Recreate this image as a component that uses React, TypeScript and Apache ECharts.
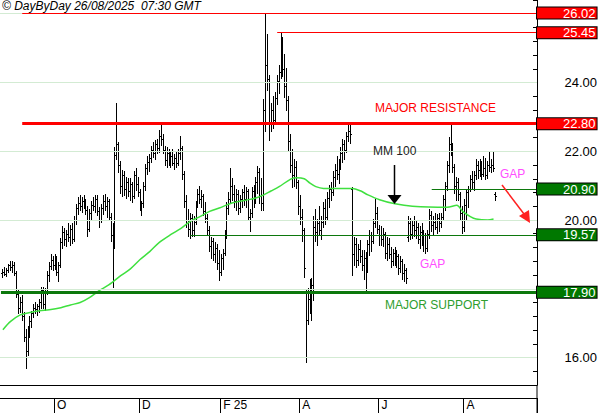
import { useEffect, useRef } from 'react';
import * as echarts from 'echarts';

// ---------- calendar ----------
const FIRST_DAY = '2024-08-22';
const SLOT_COUNT = 278;
const HOLIDAYS = ['2024-12-25', '2024-12-26', '2025-01-01', '2025-04-18', '2025-04-21', '2025-05-01'];
const MONTH_KEYS = ['2024-10', '2024-12', '2025-02', '2025-04', '2025-06', '2025-08'];
const MONTH_LABELS = ['O', 'D', 'F 25', 'A', 'J', 'A'];

// ---------- price bars: [open, high, low, close], daily from FIRST_BAR ----------
const FIRST_BAR = '2024-08-23';
const BARS: number[][] = [
  [18.45, 18.55, 18.35, 18.5], [18.5, 18.62, 18.4, 18.42], [18.42, 18.6, 18.38, 18.55], [18.55, 18.72, 18.5, 18.68], [18.68, 18.8, 18.55, 18.62],
  [18.62, 18.78, 18.5, 18.7], [18.7, 18.75, 18.4, 18.45], [18.45, 18.5, 17.77, 17.85], [17.85, 17.95, 17.3, 17.45], [17.45, 17.75, 17.35, 17.6],
  [17.6, 17.8, 17.1, 17.2], [17.2, 17.3, 16.5, 16.6], [16.6, 16.8, 15.7, 16.2], [16.2, 16.9, 16.1, 16.8], [16.8, 17.2, 16.6, 17.05],
  [17.05, 17.35, 16.9, 17.3], [17.3, 17.55, 17.2, 17.45], [17.45, 17.6, 17.3, 17.4], [17.4, 17.55, 17.25, 17.5], [17.5, 17.7, 17.35, 17.6],
  [17.6, 18.05, 17.45, 17.95], [17.95, 18.05, 17.45, 17.55], [17.55, 18.0, 17.4, 17.9], [17.9, 18.5, 17.85, 18.4], [18.4, 18.75, 18.25, 18.65],
  [18.65, 19.0, 18.6, 18.85], [18.85, 18.95, 18.55, 18.7], [18.7, 19.0, 18.6, 18.9], [18.9, 18.95, 18.4, 18.5], [18.5, 18.75, 18.25, 18.7],
  [18.7, 19.45, 18.65, 19.35], [19.35, 19.8, 19.2, 19.65], [19.65, 19.75, 19.3, 19.45], [19.45, 19.7, 19.25, 19.6], [19.6, 19.9, 19.4, 19.5],
  [19.5, 19.85, 19.3, 19.75], [19.75, 19.9, 19.35, 19.45], [19.45, 20.1, 19.4, 20.0], [20.0, 20.45, 19.9, 20.35], [20.35, 20.65, 20.2, 20.5],
  [20.5, 20.7, 20.3, 20.4], [20.4, 20.65, 20.25, 20.55], [20.55, 20.7, 20.35, 20.45], [20.45, 20.6, 20.2, 20.3], [20.3, 20.4, 19.56, 19.75],
  [19.75, 20.3, 19.7, 20.2], [20.2, 20.55, 20.05, 20.45], [20.45, 20.65, 20.3, 20.4], [20.4, 20.7, 20.25, 20.6], [20.6, 20.7, 20.15, 20.25],
  [20.25, 20.35, 19.8, 20.0], [20.0, 20.45, 19.95, 20.35], [20.35, 20.7, 20.2, 20.55], [20.55, 20.75, 20.3, 20.4], [20.4, 20.65, 20.1, 20.55],
  [20.55, 20.6, 20.0, 20.1], [20.1, 20.2, 19.4, 19.55], [19.55, 19.9, 18.06, 19.3], [19.3, 22.1, 19.2, 21.9], [21.9, 23.4, 21.8, 22.2],
  [22.2, 22.25, 21.4, 21.6], [21.6, 21.7, 20.8, 21.0], [21.0, 21.45, 20.7, 21.3], [21.3, 21.4, 20.75, 20.9], [20.9, 21.25, 20.65, 21.1],
  [21.1, 21.2, 20.7, 20.85], [20.85, 21.2, 20.6, 21.05], [21.05, 21.1, 20.55, 20.7], [20.7, 21.4, 20.65, 21.3], [21.3, 21.5, 20.9, 21.05],
  [21.05, 21.25, 20.7, 20.8], [20.8, 20.9, 20.3, 20.4], [20.4, 20.55, 20.15, 20.5], [20.5, 21.1, 20.4, 21.0], [21.0, 21.6, 20.9, 21.5],
  [21.5, 21.85, 21.35, 21.7], [21.7, 21.9, 21.45, 21.8], [21.8, 22.15, 21.7, 22.05], [22.05, 22.25, 21.85, 21.95], [21.95, 22.3, 21.8, 22.2],
  [22.2, 22.35, 21.95, 22.1], [22.1, 22.6, 22.0, 22.45], [22.45, 22.82, 22.2, 22.35], [22.35, 22.5, 21.95, 22.05], [22.05, 22.15, 21.6, 21.75],
  [21.75, 22.1, 21.55, 21.95], [21.95, 22.05, 21.6, 21.7], [21.7, 21.95, 21.55, 21.85], [21.85, 22.05, 21.6, 21.65], [21.65, 21.9, 21.5, 21.8],
  [21.8, 21.95, 21.55, 21.65], [21.65, 22.05, 21.6, 21.95], [21.95, 22.42, 21.8, 22.1], [22.1, 22.15, 21.2, 21.35], [21.35, 21.4, 20.4, 20.55],
  [20.55, 20.7, 19.8, 20.0], [20.0, 20.3, 19.55, 19.75], [19.75, 20.2, 19.5, 20.05], [20.05, 20.15, 19.55, 19.7], [19.7, 20.1, 19.55, 19.95],
  [19.95, 20.55, 19.9, 20.45], [20.45, 20.9, 20.4, 20.75], [20.75, 20.98, 20.5, 20.6], [20.6, 20.85, 20.4, 20.7], [20.7, 20.75, 20.15, 20.25],
  [20.25, 20.5, 19.95, 20.05], [20.05, 20.15, 19.6, 19.7], [19.7, 19.8, 19.1, 19.25], [19.25, 19.5, 18.9, 19.4], [19.4, 19.45, 18.85, 19.0],
  [19.0, 19.35, 18.8, 19.2], [19.2, 19.3, 18.6, 18.75], [18.75, 19.1, 18.26, 18.5], [18.5, 19.0, 18.4, 18.9], [18.9, 19.15, 18.6, 19.05],
  [19.05, 19.7, 19.0, 19.6], [19.6, 20.5, 19.5, 20.35], [20.35, 20.8, 20.2, 20.6], [20.6, 21.5, 20.5, 21.0], [21.0, 21.2, 20.6, 20.75],
  [20.75, 21.0, 20.4, 20.55], [20.55, 20.9, 20.3, 20.75], [20.75, 20.85, 20.2, 20.35], [20.35, 20.7, 20.25, 20.6], [20.6, 20.9, 20.4, 20.8],
  [20.8, 21.0, 20.45, 20.6], [20.6, 20.95, 20.4, 20.85], [20.85, 20.9, 20.0, 20.1], [20.1, 20.3, 19.7, 20.2], [20.2, 20.95, 20.1, 20.85],
  [20.85, 21.0, 20.4, 20.6], [20.6, 21.25, 20.5, 21.1], [21.1, 21.55, 20.8, 21.4], [21.4, 21.5, 20.5, 20.7], [20.7, 21.2, 20.3, 20.5],
  [20.5, 23.5, 20.3, 23.2], [23.2, 26.02, 22.6, 24.5], [24.5, 25.4, 23.8, 24.1], [24.1, 24.2, 22.35, 22.8], [22.8, 23.4, 22.6, 23.2],
  [23.2, 23.6, 22.7, 22.9], [22.9, 23.7, 22.8, 23.55], [23.55, 24.2, 23.4, 24.05], [24.05, 24.5, 23.7, 24.3], [24.3, 25.45, 24.15, 25.1],
  [25.1, 25.3, 24.2, 24.4], [24.4, 24.8, 23.6, 23.9], [23.9, 24.4, 23.2, 23.5], [23.5, 23.6, 22.05, 22.3], [22.3, 22.5, 21.4, 21.6],
  [21.6, 22.05, 20.97, 21.3], [21.3, 21.75, 21.0, 21.55], [21.55, 21.7, 20.95, 21.1], [21.1, 21.15, 20.2, 20.4], [20.4, 20.7, 19.9, 20.1],
  [20.1, 20.3, 19.4, 19.7], [19.7, 19.75, 18.35, 18.6], [17.9, 17.96, 15.88, 17.1], [17.1, 18.0, 17.0, 17.7], [17.7, 18.26, 17.3, 17.5],
  [17.5, 18.3, 17.1, 18.1], [18.1, 20.1, 17.7, 19.8], [19.8, 20.3, 19.4, 19.65], [19.65, 20.0, 19.3, 19.9], [19.9, 20.4, 19.6, 19.7],
  [19.7, 20.1, 19.45, 19.95], [19.95, 20.5, 19.8, 20.35], [20.35, 20.6, 19.9, 20.1], [20.1, 20.8, 20.0, 20.65], [20.65, 21.0, 20.4, 20.9],
  [20.9, 21.1, 20.6, 20.8], [20.8, 21.4, 20.75, 21.25], [21.25, 21.6, 21.0, 21.45], [21.45, 21.85, 21.2, 21.35], [21.35, 21.75, 21.1, 21.6],
  [21.6, 22.1, 21.5, 21.95], [21.95, 22.33, 21.7, 22.2], [22.2, 22.3, 21.8, 22.05], [22.05, 22.55, 22.0, 22.45], [22.45, 22.82, 22.3, 22.6],
  [22.6, 22.75, 22.25, 22.5], [20.9, 20.95, 18.4, 19.0], [19.0, 19.5, 18.7, 19.3], [19.3, 19.45, 18.65, 18.85], [18.85, 19.3, 18.7, 19.15],
  [19.15, 19.4, 18.8, 18.95], [18.95, 19.1, 18.55, 18.7], [18.7, 19.1, 18.3, 18.9], [18.9, 19.05, 17.95, 18.6], [18.6, 19.4, 18.5, 19.3],
  [19.3, 19.7, 19.0, 19.55], [19.55, 19.65, 19.1, 19.4], [19.4, 20.0, 19.35, 19.9], [19.9, 20.6, 19.8, 20.2], [20.2, 20.35, 19.65, 19.75],
  [19.75, 19.85, 19.3, 19.55], [19.55, 19.8, 19.3, 19.45], [19.45, 19.75, 19.25, 19.6], [19.6, 19.65, 18.9, 19.05], [19.05, 19.5, 18.85, 19.3],
  [19.3, 19.45, 18.9, 19.0], [19.0, 19.2, 18.65, 18.8], [18.8, 19.15, 18.7, 19.05], [19.05, 19.2, 18.7, 18.85], [18.85, 19.1, 18.65, 18.95],
  [18.95, 19.0, 18.45, 18.6], [18.6, 18.95, 18.5, 18.8], [18.8, 18.85, 18.3, 18.45], [18.45, 18.7, 18.25, 18.55], [18.55, 18.6, 18.17, 18.3],
  [19.5, 20.1, 19.4, 19.9], [19.9, 20.05, 19.45, 19.6], [19.6, 19.95, 19.5, 19.85], [19.85, 20.1, 19.55, 19.7], [19.7, 19.95, 19.5, 19.8],
  [19.8, 19.9, 19.35, 19.45], [19.45, 19.8, 19.2, 19.65], [19.65, 19.9, 19.3, 19.4], [19.4, 19.7, 19.1, 19.55], [19.55, 19.6, 19.04, 19.2],
  [19.2, 19.7, 19.1, 19.6], [19.6, 20.3, 19.5, 20.15], [20.15, 20.25, 19.7, 19.85], [19.85, 20.1, 19.6, 19.95], [19.95, 20.2, 19.75, 19.8],
  [19.8, 20.15, 19.65, 20.05], [20.05, 20.2, 19.7, 19.9], [19.9, 20.2, 19.8, 20.1], [20.1, 20.7, 20.05, 20.6], [20.6, 21.1, 20.3, 21.0],
  [21.0, 21.7, 20.9, 21.6], [21.6, 22.4, 21.4, 22.2], [22.2, 22.77, 21.9, 22.1], [22.1, 22.24, 21.4, 21.55], [21.55, 21.6, 20.8, 21.0],
  [21.0, 21.25, 20.6, 21.1], [21.1, 21.2, 20.6, 20.75], [20.75, 20.8, 20.0, 20.2], [20.2, 20.4, 19.63, 19.8], [19.8, 20.6, 19.7, 20.45],
  [20.45, 20.9, 20.0, 20.8], [20.8, 20.97, 20.4, 20.9], [20.9, 21.3, 20.85, 21.2], [21.2, 21.4, 20.95, 21.1], [21.1, 21.4, 20.9, 21.3],
  [21.3, 21.75, 21.2, 21.6], [21.6, 21.7, 21.25, 21.45], [21.45, 21.75, 21.3, 21.65], [21.65, 21.7, 21.2, 21.35], [21.35, 21.85, 21.3, 21.5],
  [21.5, 21.8, 21.2, 21.3], [21.3, 21.7, 21.25, 21.6], [21.6, 21.95, 21.45, 21.55], [21.55, 21.75, 21.4, 21.6], [21.6, 21.95, 21.45, 21.5],
  [20.75, 20.8, 20.6, 20.7],
];

// ---------- 100-day moving average, read at sample points (slot index, value) ----------
const MA_SLOTS = [1, 5, 10, 15, 20, 25, 31, 36, 41, 46, 51, 56, 62, 67, 72, 77, 82, 88, 93, 98, 103, 108, 113, 120, 129, 134, 140, 144, 150, 153, 157, 160, 163, 167, 182, 186, 190, 196, 204, 213, 231, 236, 239, 243, 246, 252, 255];
const MA_VALUES = [16.81, 17.05, 17.24, 17.31, 17.36, 17.39, 17.45, 17.53, 17.6, 17.75, 17.95, 18.12, 18.38, 18.58, 18.85, 19.08, 19.35, 19.58, 19.75, 19.96, 20.1, 20.25, 20.35, 20.5, 20.6, 20.68, 20.85, 20.97, 21.19, 21.23, 21.2, 21.07, 20.97, 20.92, 20.92, 20.85, 20.73, 20.59, 20.47, 20.4, 20.37, 20.43, 20.25, 20.1, 20.03, 20.0, 20.03];

// ---------- levels ----------
const LEVEL_VALUES = [26.02, 25.45, 22.8, 20.9, 19.57, 17.9];
const LEVEL_STARTS = ['2024-09-06', '2025-03-14', '2024-09-06', '2025-07-09', '2025-01-10', '2024-08-22'];
const LEVEL_IS_RESISTANCE = [true, true, true, false, false, false];
const LEVEL_IS_MAJOR = [false, false, true, false, false, true];

// ---------- value axis ----------
const Y_MIN = 15.2;
const Y_MAX = 26.4;
const Y_TICK = 0.4;
const GRID_VALUES = [16, 18, 20, 22, 24, 26];
const Y_LABELS = [16, 20, 22, 24];

function buildDays(): string[] {
  const out: string[] = [];
  const [y, m, d] = FIRST_DAY.split('-').map(Number);
  const dt = new Date(Date.UTC(y, m - 1, d));
  while (out.length < SLOT_COUNT) {
    const wd = dt.getUTCDay();
    const s = dt.toISOString().slice(0, 10);
    if (wd !== 0 && wd !== 6 && !HOLIDAYS.includes(s)) out.push(s);
    dt.setUTCDate(dt.getUTCDate() + 1);
  }
  return out;
}

export default function App() {
  const ref = useRef<HTMLDivElement>(null);

  useEffect(() => {
    if (!ref.current) return;
    const chart = echarts.init(ref.current, undefined, { renderer: 'svg' });
    const days = buildDays();
    const monthStart = (i: number) => {
      const k = days[i].slice(0, 7);
      if (!MONTH_KEYS.includes(k)) return false;
      return i === 0 || days[i - 1].slice(0, 7) !== k;
    };
    const monthLabel = (i: number) => MONTH_LABELS[MONTH_KEYS.indexOf(days[i].slice(0, 7))];
    const first = days.indexOf(FIRST_BAR);
    const barData = BARS.map((b, i) => [first + i, b[0], b[1], b[2], b[3]]);
    const maData = MA_SLOTS.map((s, i) => [s, MA_VALUES[i]]);
    const lastDay = days[days.length - 1];

    const RED = '#ff0000';
    const GREEN_BOX = '#007800';
    const GREEN_LINE = '#0c780c';

    const levelLines = LEVEL_VALUES.map((v, i) => {
      const res = LEVEL_IS_RESISTANCE[i];
      const major = LEVEL_IS_MAJOR[i];
      return [
        {
          coord: [LEVEL_STARTS[i], v],
          lineStyle: { color: res ? RED : GREEN_LINE, width: major ? 3 : 1, type: 'solid' },
          label: {
            show: true,
            position: 'end',
            distance: 1,
            formatter: v.toFixed(2),
            color: '#ffffff',
            backgroundColor: res ? RED : GREEN_BOX,
            borderColor: '#000',
            borderWidth: 1,
            padding: [0, 1, 0, 26],
            lineHeight: 11,
            fontSize: 13,
            fontFamily: 'Arial',
          },
        },
        { coord: [lastDay, v] },
      ];
    });

    const option: any = {
      animation: false,
      backgroundColor: '#ffffff',
      grid: { left: 0, right: 63, top: 0, bottom: 28, containLabel: false },
      xAxis: [
        {
          type: 'category',
          data: days,
          boundaryGap: true,
          position: 'bottom',
          offset: 13,
          axisLine: { show: true, lineStyle: { color: '#000', width: 1 } },
          axisTick: { show: true, interval: (i: number) => monthStart(i), length: 15, lineStyle: { color: '#000' } },
          axisLabel: {
            show: true,
            interval: (i: number) => monthStart(i),
            formatter: (_v: string, i: number) => monthLabel(i),
            align: 'left',
            margin: 1,
            padding: [0, 0, 0, 2],
            fontSize: 12,
            fontFamily: 'Arial',
            color: '#000',
          },
          splitLine: { show: false },
        },
        {
          type: 'category',
          data: days,
          boundaryGap: true,
          position: 'bottom',
          offset: 0,
          axisLine: { show: true, lineStyle: { color: '#000', width: 1 } },
          axisTick: { show: false },
          axisLabel: { show: false },
          splitLine: { show: false },
        },
      ],
      yAxis: {
        type: 'value',
        position: 'right',
        min: Y_MIN,
        max: Y_MAX,
        interval: Y_TICK,
        axisLine: { show: true, lineStyle: { color: '#000', width: 1 } },
        axisTick: { show: true, inside: true, length: 4, lineStyle: { color: '#000' } },
        axisLabel: {
          show: true,
          margin: 60,
          align: 'right',
          fontSize: 13,
          fontFamily: 'Arial',
          color: '#000',
          formatter: (v: number) => (Y_LABELS.some((g) => Math.abs(g - v) < 1e-6) ? v.toFixed(2) : ''),
        },
        splitLine: { show: false },
      },
      series: [
        {
          type: 'line',
          data: [],
          z: 1,
          silent: true,
          markLine: {
            silent: true,
            symbol: ['none', 'none'],
            label: { show: false },
            lineStyle: { color: '#d3ebd3', width: 1, type: 'solid' },
            data: GRID_VALUES.map((g) => ({ yAxis: g })),
          },
        },
        {
          type: 'custom',
          z: 3,
          silent: true,
          data: barData,
          renderItem: (_p: any, api: any) => {
            const i = api.value(0);
            const pO = api.coord([i, api.value(1)]);
            const pH = api.coord([i, api.value(2)]);
            const pL = api.coord([i, api.value(3)]);
            const pC = api.coord([i, api.value(4)]);
            const px = Math.floor(pH[0]) + 0.5;
            const yo = Math.round(pO[1]) + 0.5;
            const yc = Math.round(pC[1]) + 0.5;
            const style = { stroke: '#000', lineWidth: 1 };
            return {
              type: 'group',
              children: [
                { type: 'line', shape: { x1: px, y1: Math.floor(pH[1]), x2: px, y2: Math.ceil(pL[1]) + 1 }, style },
                { type: 'line', shape: { x1: px - 1.5, y1: yo, x2: px, y2: yo }, style },
                { type: 'line', shape: { x1: px, y1: yc, x2: px + 1.5, y2: yc }, style },
              ],
            };
          },
        },
        {
          type: 'line',
          z: 4,
          silent: true,
          data: maData,
          smooth: 0.3,
          showSymbol: false,
          lineStyle: { color: '#3fe03f', width: 1.5 },
        },
        {
          type: 'line',
          data: [],
          z: 6,
          silent: true,
          markLine: {
            silent: true,
            symbol: ['none', 'none'],
            data: levelLines,
          },
        },
      ],
      graphic: [
        {
          type: 'text',
          left: 2,
          top: 0,
          style: { text: '\u00a9 DayByDay 26/08/2025  07:30 GMT', fill: '#000', font: 'italic 12px Arial' },
          z: 10,
        },
        { type: 'line', shape: { x1: 537, y1: 385, x2: 537, y2: 413 }, style: { stroke: '#000', lineWidth: 1 }, z: 10 },
        {
          type: 'text', x: 375, y: 108,
          style: { text: 'MAJOR RESISTANCE', fill: '#ff0000', font: '12px Arial', verticalAlign: 'middle' }, z: 10,
        },
        {
          type: 'text', x: 373, y: 151,
          style: { text: 'MM 100', fill: '#222', font: '12px Arial', verticalAlign: 'middle' }, z: 10,
        },
        { type: 'line', shape: { x1: 394.5, y1: 165, x2: 394.5, y2: 197 }, style: { stroke: '#000', lineWidth: 1.5 }, z: 10 },
        { type: 'polygon', shape: { points: [[387.5, 195], [401.5, 195], [394.5, 204]] }, style: { fill: '#000' }, z: 10 },
        {
          type: 'text', x: 385, y: 305,
          style: { text: 'MAJOR SUPPORT', fill: '#2e9e2e', font: '12px Arial', verticalAlign: 'middle' }, z: 10,
        },
        {
          type: 'text', x: 500, y: 174,
          style: { text: 'GAP', fill: '#ff4dff', font: '12px Arial', verticalAlign: 'middle' }, z: 10,
        },
        {
          type: 'text', x: 420, y: 264,
          style: { text: 'GAP', fill: '#ff4dff', font: '12px Arial', verticalAlign: 'middle' }, z: 10,
        },
        { type: 'line', shape: { x1: 502, y1: 185, x2: 524, y2: 214 }, style: { stroke: '#ff2020', lineWidth: 1.5 }, z: 10 },
        { type: 'polygon', shape: { points: [[519, 216], [529, 210], [530, 223]] }, style: { fill: '#ff2020' }, z: 10 },
      ],
    };
    chart.setOption(option);
    return () => chart.dispose();
  }, []);

  return <div ref={ref} style={{ position: 'fixed', left: 0, top: 0, width: 600, height: 413, background: '#fff' }} />;
}
